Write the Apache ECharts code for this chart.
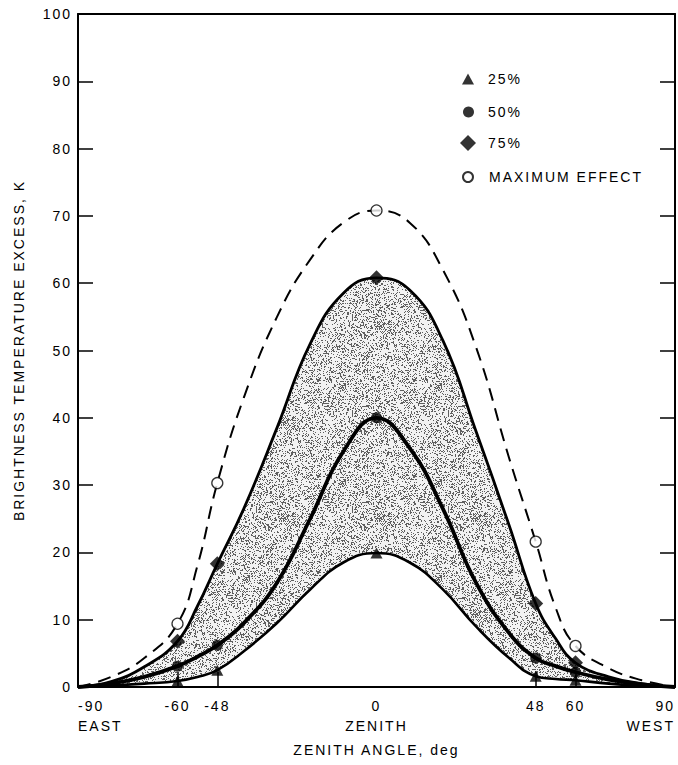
<!DOCTYPE html>
<html>
<head>
<meta charset="utf-8">
<script src="https://cdn.jsdelivr.net/npm/echarts@6/dist/echarts.min.js"></script>
<style>
html, body { margin: 0; padding: 0; background: #fff; }
#chart { width: 678px; height: 765px; }
#chart text { letter-spacing: 2px; }
</style>
</head>
<body>
<div id="chart"></div>
<script>
// Angles (deg) at which the fitted curves are sampled
const angles = [-90, -80, -70, -60, -54, -48, -40, -30, -20, -10, 0, 10, 20, 30, 40, 48, 54, 60, 70, 80, 90];
// Curve values (K)
const curve25  = [0, 0.2, 0.5, 0.9, 1.5, 2.5, 5.3, 9.5, 14.5, 18.5, 19.9, 18.5, 14.5, 9.0, 4.3, 1.6, 1.2, 1.0, 0.5, 0.2, 0];
const curve50  = [0, 0.5, 1.5, 3.1, 4.5, 6.2, 9.5, 15.5, 25.0, 35.0, 40.0, 35.5, 26.5, 15.5, 8.0, 4.3, 3.1, 2.2, 1.1, 0.4, 0];
const curve75  = [0, 0.8, 3.0, 6.8, 12.0, 18.3, 26.5, 38.5, 51.0, 58.5, 60.8, 59.0, 51.5, 38.0, 24.0, 12.4, 7.2, 3.6, 1.5, 0.5, 0];
const curveMax = [0, 1.5, 4.3, 9.4, 18.0, 30.3, 43.0, 55.0, 63.5, 69.0, 70.8, 69.0, 62.0, 50.5, 34.0, 21.6, 11.8, 6.1, 2.8, 1.0, 0];

// Measured points
const markerAngles = [-60, -48, 0, 48, 60];
const pts25  = [0.9, 2.5, 19.9, 1.6, 1.0];
const pts50  = [3.1, 6.2, 40.0, 4.3, 2.2];
const pts75  = [6.8, 18.3, 60.8, 12.4, 3.6];
const ptsMax = [9.4, 30.3, 70.8, 21.6, 6.1];

// Axis labelling
const xTickValues = [-90, -60, -48, 0, 48, 60, 90];
const xTickLabels = ['-90', '-60', '-48', '0', '48', '60', '90'];
const xSubLabels = { '-90': 'EAST', '0': 'ZENITH', '90': 'WEST' };
const xMarkTicks = [-60, -48, 48, 60];
const seriesNames = ['25%', '50%', '75%', 'MAXIMUM EFFECT'];

const FONT = 'Liberation Sans';
const SMOOTH = 0.45;

function pairs(xs, ys) { return xs.map((x, i) => [x, ys[i]]); }

// Fine grain stipple used for the band between the 25% and 75% curves
function stipple() {
  const c = document.createElement('canvas');
  c.width = 96; c.height = 96;
  const ctx = c.getContext('2d');
  const img = ctx.createImageData(96, 96);
  for (let y = 0; y < 96; y++) {
    for (let x = 0; x < 96; x++) {
      let h = Math.imul(x, 374761393) ^ Math.imul(y, 668265263);
      h = Math.imul(h ^ (h >>> 13), 1274126177);
      h = (h ^ (h >>> 16)) >>> 0;
      const g = (h % 1000) < 260 ? 95 : 242;
      const k = (y * 96 + x) * 4;
      img.data[k] = img.data[k + 1] = img.data[k + 2] = g;
      img.data[k + 3] = 255;
    }
  }
  ctx.putImageData(img, 0, 0);
  return c.toDataURL();
}

const chart = echarts.init(document.getElementById('chart'), null, { renderer: 'svg' });

const legendBase = {
  orient: 'vertical',
  selectedMode: false,
  itemGap: 0,
  textStyle: { fontFamily: FONT, fontSize: 14, color: '#000', lineHeight: 16 }
};
function legendFor(name, icon, left, top, w, h, pad) {
  return Object.assign({}, legendBase, {
    data: [{ name: name, icon: icon }], left: left, top: top, itemWidth: w, itemHeight: h,
    textStyle: Object.assign({}, legendBase.textStyle, { padding: [0, 0, 0, pad] })
  });
}

function curve(name, values, width, z, extra) {
  return Object.assign({
    name: name, type: 'line', smooth: SMOOTH, showSymbol: false, silent: true, z: z,
    lineStyle: { color: '#000', width: width },
    data: pairs(angles, values)
  }, extra || {});
}

const option = {
  animation: false,
  backgroundColor: '#fff',
  textStyle: { fontFamily: FONT },
  grid: { left: 78, right: 2, top: 14, bottom: 78 },
  legend: [
    legendFor(seriesNames[0], 'triangle', 457, 66, 12, 11, 9),
    legendFor(seriesNames[1], 'circle', 458, 99, 11, 11, 9),
    legendFor(seriesNames[2], 'diamond', 455, 130, 16, 16, 7),
    legendFor(seriesNames[3], 'circle', 457, 164, 10, 10, 11)
  ],
  xAxis: [
    {
      type: 'value', min: -90, max: 90, position: 'bottom', z: 10,
      name: 'ZENITH ANGLE, deg', nameLocation: 'middle', nameGap: 56,
      nameTextStyle: { fontFamily: FONT, fontSize: 14, color: '#000' },
      axisLine: { show: true, onZero: false, lineStyle: { color: '#000', width: 2 } },
      axisTick: { show: true, inside: true, length: 15, customValues: xMarkTicks, lineStyle: { color: '#000', width: 1.5 } },
      axisLabel: {
        customValues: xTickValues,
        alignMinLabel: 'left', alignMaxLabel: 'right',
        margin: 9, fontFamily: FONT, fontSize: 14, color: '#000', lineHeight: 20,
        formatter: function (v) {
          const i = xTickValues.indexOf(v);
          const sub = xSubLabels[String(v)];
          return sub ? xTickLabels[i] + '\n' + sub : xTickLabels[i];
        }
      },
      splitLine: { show: false }
    },
    {
      type: 'value', min: -90, max: 90, position: 'top', z: 10,
      axisLine: { show: true, onZero: false, lineStyle: { color: '#000', width: 2 } },
      axisTick: { show: false }, axisLabel: { show: false }, splitLine: { show: false }
    }
  ],
  yAxis: [
    {
      type: 'value', min: 0, max: 100, interval: 10, position: 'left', z: 10,
      name: 'BRIGHTNESS TEMPERATURE EXCESS, K', nameLocation: 'middle', nameGap: 52,
      nameTextStyle: { fontFamily: FONT, fontSize: 14, color: '#000' },
      axisLine: { show: true, onZero: false, lineStyle: { color: '#000', width: 2 } },
      axisTick: { show: true, inside: true, length: 15, lineStyle: { color: '#000', width: 1.5 } },
      axisLabel: { margin: 6, fontFamily: FONT, fontSize: 14, color: '#000' },
      splitLine: { show: false }
    },
    {
      type: 'value', min: 0, max: 100, interval: 10, position: 'right', z: 10,
      axisLine: { show: true, onZero: false, lineStyle: { color: '#000', width: 2 } },
      axisTick: { show: true, inside: true, length: 15, lineStyle: { color: '#000', width: 1.5 } },
      axisLabel: { show: false }, splitLine: { show: false }
    }
  ],
  series: [
    // stippled band: 75% area over a white 25% area
    curve('band75', curve75, 0, 1, {
      lineStyle: { width: 0, opacity: 0 },
      areaStyle: { color: { image: stipple(), repeat: 'repeat' }, opacity: 1, origin: 'start' }
    }),
    curve('band25', curve25, 0, 2, {
      lineStyle: { width: 0, opacity: 0 },
      areaStyle: { color: '#fff', opacity: 1, origin: 'start' }
    }),
    curve('curve25', curve25, 2.6, 3),
    curve('curve75', curve75, 2.8, 3),
    curve('curve50', curve50, 3.8, 3),
    curve('curveMax', curveMax, 2, 3, { lineStyle: { color: '#000', width: 2, type: [13, 8] } }),
    {
      name: seriesNames[0], type: 'scatter', symbol: 'triangle', symbolSize: [12, 11], z: 5,
      itemStyle: { color: '#000' }, data: pairs(markerAngles, pts25)
    },
    {
      name: seriesNames[1], type: 'scatter', symbol: 'circle', symbolSize: 11, z: 5,
      itemStyle: { color: '#000' }, data: pairs(markerAngles, pts50)
    },
    {
      name: seriesNames[2], type: 'scatter', symbol: 'diamond', symbolSize: [15, 15], z: 5,
      itemStyle: { color: '#000' }, data: pairs(markerAngles, pts75)
    },
    {
      name: seriesNames[3], type: 'scatter', symbol: 'circle', symbolSize: 11, z: 5,
      itemStyle: { color: '#fff', borderColor: '#000', borderWidth: 1.3 }, data: pairs(markerAngles, ptsMax)
    }
  ]
};

chart.setOption(option);
</script>
</body>
</html>
